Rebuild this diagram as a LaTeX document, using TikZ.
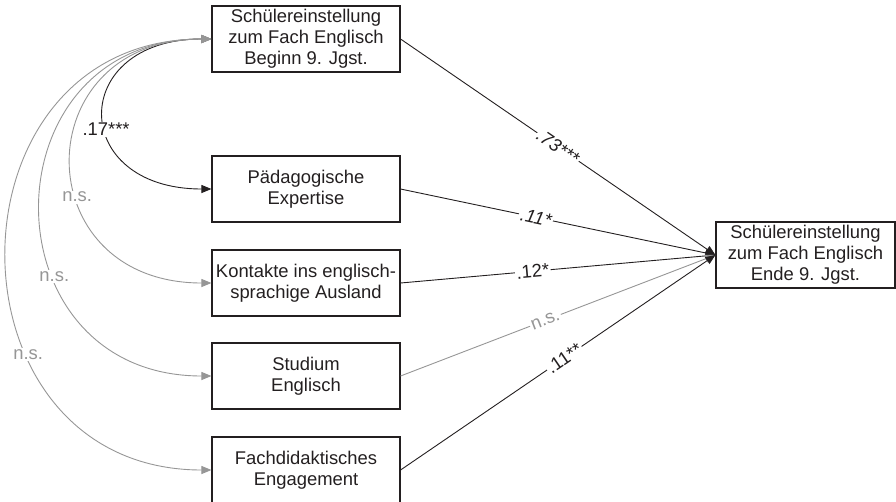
\documentclass[tikz,border=0pt]{standalone}
\usepackage{fontspec}
\setmainfont{Liberation Sans}
\usetikzlibrary{arrows.meta}
\definecolor{semblack}{RGB}{35,31,32}
\definecolor{semgray}{RGB}{150,150,150}

\begin{document}
\begin{tikzpicture}[x=1pt, y=-1pt, >={Triangle[length=10pt,width=8pt]},
  font=\fontsize{18.4}{21}\selectfont,
  varbox/.style={draw=semblack, line width=1.1pt, minimum width=188pt, minimum height=66pt,
    align=center, inner sep=1pt, text=semblack},
  eff/.style={->, semblack, line width=0.9pt},
  effns/.style={->, semgray, line width=0.9pt},
  coef/.style={fill=white, inner sep=1.5pt, text=semblack},
  coefns/.style={fill=white, inner sep=1.5pt, text=semgray}]
  \useasboundingbox (0,0) rectangle (896,501);
  % predictors
  \node[varbox] (vorher) at (306,39) {Schülereinstellung\\zum Fach Englisch\\Beginn 9. Jgst.};
  \node[varbox] (paed) at (306,189) {Pädagogische\\Expertise};
  \node[varbox] (kont) at (306,283) {Kontakte ins englisch-\\sprachige Ausland};
  \node[varbox] (stud) at (306,376) {Studium\\Englisch};
  \node[varbox] (fach) at (306,470) {Fachdidaktisches\\Engagement};
  % outcome
  \node[varbox, minimum width=179pt] (nachher) at (805.5,255) {Schülereinstellung\\zum Fach Englisch\\Ende 9. Jgst.};
  % correlations
  \draw[<->, semblack, line width=0.9pt] (vorher.west) to[out=180, in=180, looseness=2.45]
    node[coef, pos=0.57] {.17***} (paed.west);
  \foreach \v/\l/\p in {kont/1.96/0.6, stud/1.73/0.64, fach/1.62/0.66}
    \draw[<->, semgray, line width=0.9pt] (vorher.west) to[out=180, in=180, looseness=\l]
      node[coefns, pos=\p] {n.s.} (\v.west);
  % paths
  \draw[eff] (vorher.east) -- node[coef, sloped, pos=0.5] {\itshape .73***} (nachher.west);
  \draw[eff] (paed.east) -- node[coef, sloped, pos=0.43] {\itshape .11*} (nachher.west);
  \draw[eff] (kont.east) -- node[coef, sloped, pos=0.42] {.12*} (nachher.west);
  \draw[effns] (stud.east) -- node[coefns, sloped, pos=0.46] {n.s.} (nachher.west);
  \draw[eff] (fach.east) -- node[coef, sloped, pos=0.52] {.11**} (nachher.west);
\end{tikzpicture}
\end{document}
